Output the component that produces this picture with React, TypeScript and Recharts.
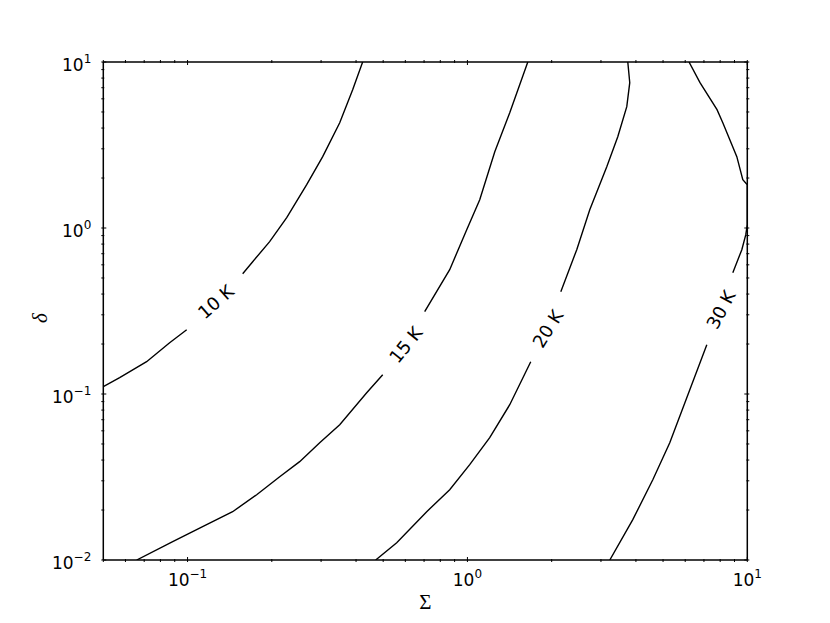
import { LineChart, Line, XAxis, YAxis, ReferenceDot } from 'recharts';

// tick positions (major + minor, log axes)
const sigmaTicks = [
  0.05, 0.06, 0.07, 0.08, 0.09,
  0.1, 0.2, 0.3, 0.4, 0.5, 0.6, 0.7, 0.8, 0.9,
  1, 2, 3, 4, 5, 6, 7, 8, 9, 10,
];
const deltaTicks = [
  0.01, 0.02, 0.03, 0.04, 0.05, 0.06, 0.07, 0.08, 0.09,
  0.1, 0.2, 0.3, 0.4, 0.5, 0.6, 0.7, 0.8, 0.9,
  1, 2, 3, 4, 5, 6, 7, 8, 9, 10,
];

// contour lines, null = gap where the label sits
const sigma10K = [0.05, 0.0572, 0.0714, 0.0863, 0.0993, null, 0.1574, 0.1709, 0.1965, 0.2261, 0.2665, 0.304, 0.3497, 0.389, 0.4223];
const delta10K = [0.1107, 0.1254, 0.1565, 0.2037, 0.2439, null, 0.5304, 0.6267, 0.827, 1.153, 1.823, 2.689, 4.306, 6.81, 10];

const sigma15K = [0.0658, 0.0885, 0.1132, 0.1449, 0.1766, 0.2134, 0.2515, 0.2966, 0.3497, 0.4366, 0.4981, null, 0.7035, 0.8643, 0.9942, 1.1066, 1.2524, 1.4164, 1.6433];
const delta15K = [0.01, 0.01289, 0.01587, 0.01954, 0.02473, 0.03176, 0.03911, 0.05088, 0.06533, 0.1018, 0.1307, null, 0.3131, 0.5608, 0.9768, 1.4807, 2.882, 4.951, 10];

const sigma20K = [0.4701, 0.5589, 0.7153, 0.8643, 1.019, 1.2013, 1.4164, 1.6837, null, 2.156, 2.458, 2.736, 3.147, 3.445, 3.71, 3.802, 3.741];
const delta20K = [0.01, 0.01271, 0.01954, 0.02652, 0.03751, 0.05454, 0.08617, 0.1565, null, 0.4133, 0.7405, 1.289, 2.341, 3.548, 5.379, 7.505, 10];

const sigma30K = [3.226, 3.898, 4.596, 5.284, 6.231, 7.167, null, 8.876, 9.559, 9.877, 10, 10, 9.637, 9.174, 8.175, 7.795, 6.776, 6.191];
const delta30K = [0.01, 0.0175, 0.03046, 0.05088, 0.1061, 0.1981, null, 0.5378, 0.7405, 0.9113, 1.047, 1.823, 1.954, 2.689, 4.306, 5.16, 7.505, 10];

// inline contour labels
const labelText = ['10 K', '15 K', '20 K', '30 K'];
const labelSigma = [0.126, 0.6018, 1.936, 8.04];
const labelDelta = [0.3597, 0.198, 0.2473, 0.322];
const labelAngle = [-41, -51, -58, -62];

const toPoints = (xs: (number | null)[], ys: (number | null)[]) =>
  xs.map((x, i) => ({ x: x, y: ys[i] }));

const contours = [
  toPoints(sigma10K, delta10K),
  toPoints(sigma15K, delta15K),
  toPoints(sigma20K, delta20K),
  toPoints(sigma30K, delta30K),
];

const FONT = 'DejaVu Sans';

function isMajor(v: number) {
  const l = Math.log10(v);
  return Math.abs(l - Math.round(l)) < 1e-9;
}

function PowerLabel(props: any) {
  const { x, y, v, anchor } = props;
  const exp = Math.round(Math.log10(v));
  return (
    <text x={x} y={y} textAnchor={anchor} fontFamily={FONT} fontSize={17} fill="#000">
      <tspan>10</tspan>
      <tspan dy={-8} fontSize={12}>{exp < 0 ? '\u2212' + Math.abs(exp) : String(exp)}</tspan>
    </text>
  );
}

function BottomTick(props: any) {
  const { x, y, payload } = props;
  const major = isMajor(payload.value);
  return (
    <g>
      <line x1={x} y1={y} x2={x} y2={y - (major ? 5 : 3)} stroke="#000" strokeWidth={1} />
      {major && <PowerLabel x={x} y={y + 24} v={payload.value} anchor="middle" />}
    </g>
  );
}

function TopTick(props: any) {
  const { x, y, payload } = props;
  const major = isMajor(payload.value);
  return <line x1={x} y1={y} x2={x} y2={y + (major ? 5 : 3)} stroke="#000" strokeWidth={1} />;
}

function LeftTick(props: any) {
  const { x, y, payload } = props;
  const major = isMajor(payload.value);
  return (
    <g>
      <line x1={x} y1={y} x2={x + (major ? 5 : 3)} y2={y} stroke="#000" strokeWidth={1} />
      {major && <PowerLabel x={x - 10} y={y + 8.5} v={payload.value} anchor="end" />}
    </g>
  );
}

function RightTick(props: any) {
  const { x, y, payload } = props;
  const major = isMajor(payload.value);
  return <line x1={x} y1={y} x2={x - (major ? 5 : 3)} y2={y} stroke="#000" strokeWidth={1} />;
}

const axisLine = { stroke: '#000', strokeWidth: 1.5 };

export default function App() {
  return (
    <div style={{ position: 'absolute', left: 0, top: 0, background: '#fff' }}>
      <LineChart width={830} height={623} margin={{ top: 42, right: 62.7, bottom: 13, left: 43.3 }}>
        <XAxis
          dataKey="x" type="number" scale="log" domain={[0.05, 10]} allowDataOverflow
          ticks={sigmaTicks} interval={0} tickSize={0} tickLine={false} axisLine={axisLine}
          tick={(p: any) => <BottomTick {...p} />} height={50}
          label={{
            content: (p: any) => (
              <text x={p.viewBox.x + p.viewBox.width / 2} y={p.viewBox.y + 49}
                textAnchor="middle" fontFamily="Liberation Serif" fontSize={21} fill="#000">Σ</text>
            ),
          }}
        />
        <XAxis
          xAxisId="top" orientation="top" dataKey="x" type="number" scale="log" domain={[0.05, 10]} allowDataOverflow
          ticks={sigmaTicks} interval={0} tickSize={0} tickLine={false} axisLine={axisLine}
          tick={(p: any) => <TopTick {...p} />} height={20}
        />
        <YAxis
          dataKey="y" type="number" scale="log" domain={[0.01, 10]} allowDataOverflow
          ticks={deltaTicks} interval={0} tickSize={0} tickLine={false} axisLine={axisLine}
          tick={(p: any) => <LeftTick {...p} />} width={60}
          label={{
            content: (p: any) => {
              const cx = p.viewBox.x + 4;
              const cy = p.viewBox.y + p.viewBox.height / 2 + 7;
              return (
                <text x={cx} y={cy} transform={`rotate(-90, ${cx}, ${cy})`} textAnchor="middle"
                  fontFamily="Liberation Serif" fontStyle="italic" fontSize={21} fill="#000">δ</text>
              );
            },
          }}
        />
        <YAxis
          yAxisId="right" orientation="right" dataKey="y" type="number" scale="log" domain={[0.01, 10]} allowDataOverflow
          ticks={deltaTicks} interval={0} tickSize={0} tickLine={false} axisLine={axisLine}
          tick={(p: any) => <RightTick {...p} />} width={20}
        />
        {contours.map((pts, i) => (
          <Line
            key={labelText[i]} data={pts} dataKey="y" type="linear" stroke="#000" strokeWidth={1.4}
            dot={false} activeDot={false} isAnimationActive={false} connectNulls={false}
          />
        ))}
        {labelText.map((t, i) => (
          <ReferenceDot
            key={t} x={labelSigma[i]} y={labelDelta[i]} r={0} ifOverflow="visible"
            shape={(p: any) => (
              <text x={p.cx} y={p.cy} transform={`rotate(${labelAngle[i]}, ${p.cx}, ${p.cy})`}
                textAnchor="middle" dominantBaseline="central" fontFamily={FONT} fontSize={18} fill="#000">{t}</text>
            )}
          />
        ))}
      </LineChart>
    </div>
  );
}
